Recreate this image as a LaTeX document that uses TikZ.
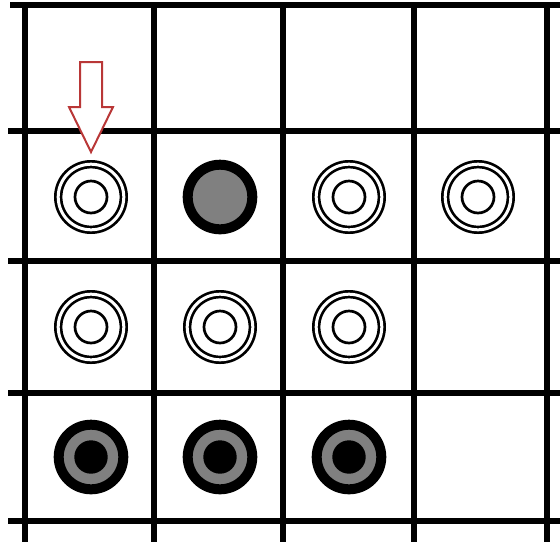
\documentclass[tikz,border=0pt]{standalone}
\usepackage{xcolor}
\usepackage{tikz}
\usetikzlibrary{positioning}
\definecolor{PieceGray}{RGB}{128,128,128}
\definecolor{MarkRed}{RGB}{185,55,55}

\begin{document}
\begin{tikzpicture}[
  x=1pt, y=-1pt,
  gridline/.style={line width=6pt, draw=black},
  hollow/.style={circle, draw=black, fill=white, line width=2.7pt,
                 double=white, double distance=3pt, minimum size=65.6pt, inner sep=0pt,
                 path picture={\draw[line width=2.7pt] (path picture bounding box.center) circle (16pt);}},
  grayp/.style={circle, draw=black, fill=PieceGray, line width=10pt,
                minimum size=64.6pt, inner sep=0pt},
  ringp/.style={grayp,
                path picture={\fill[black] (path picture bounding box.center) circle (16.7pt);}},
  marker/.style={draw=MarkRed, line width=2pt, line join=miter, fill=white}
]
\useasboundingbox (0,0) rectangle (560,542);
% grid
\draw[gridline] (10,5) -- (560,5);
\draw[gridline] (8,130.5) -- (560,130.5);
\draw[gridline] (8,261) -- (560,261);
\draw[gridline] (8,392.5) -- (560,392.5);
\draw[gridline] (8,520.5) -- (560,520.5);
\draw[gridline] (24.5,2) -- (24.5,542);
\draw[gridline] (154,2) -- (154,542);
\draw[gridline] (283,2) -- (283,542);
\draw[gridline] (413.5,2) -- (413.5,542);
\draw[gridline] (546.5,2) -- (546.5,542);
% pieces
\node[hollow] (a1) at (91,197) {};
\node[grayp]  (b1) at (220,197) {};
\node[hollow] (c1) at (349,197) {};
\node[hollow] (d1) at (478,197) {};
\node[hollow] (a2) at (91,327) {};
\node[hollow] (b2) at (220,327) {};
\node[hollow] (c2) at (349,327) {};
\node[ringp]  (a3) at (91,457) {};
\node[ringp]  (b3) at (220,457) {};
\node[ringp]  (c3) at (349,457) {};
% marker arrow
\draw[marker] (80,62) -- (102,62) -- (102,107) -- (113,107) -- (91,152)
  -- (69,107) -- (80,107) -- cycle;
\end{tikzpicture}
\end{document}
